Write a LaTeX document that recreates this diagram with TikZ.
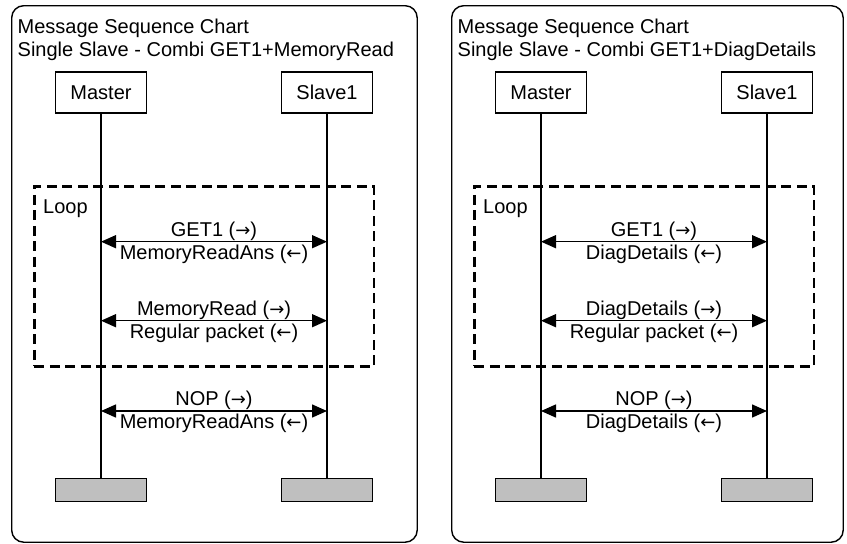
\documentclass[tikz,border=0pt]{standalone}
\usepackage{fontspec}
\setmainfont{Liberation Sans}
\newfontfamily\arrowfont{DejaVu Sans}
\newcommand\rarr{{\arrowfont\fontsize{18}{24}\selectfont →}}
\newcommand\larr{{\arrowfont\fontsize{18}{24}\selectfont ←}}
\usetikzlibrary{arrows.meta}
\tikzset{
  frame/.style={draw, line width=1.4pt, rounded corners=12pt, inner sep=0pt, anchor=north west},
  actor/.style={draw, line width=1.3pt, minimum width=91pt, minimum height=41pt, inner sep=0pt, font=\fontsize{20}{24}\selectfont},
  endbar/.style={draw, fill=black!25, line width=1.5pt, minimum width=91pt, minimum height=23pt, inner sep=0pt},
  lifeline/.style={line width=1.3pt},
  msg/.style={line width=1.5pt, {Triangle[length=15pt,width=13pt]}-{Triangle[length=15pt,width=13pt]}},
  loopbox/.style={draw, line width=2.6pt, dash pattern=on 10pt off 5.5pt},
  lbl/.style={font=\fontsize{20}{24}\selectfont, inner sep=0pt},
}
\begin{document}
\begin{tikzpicture}[x=1pt, y=-1pt]
\useasboundingbox (0,0) rectangle (847,544);
% ---------------- left panel ----------------
\node[frame, minimum width=405.5pt, minimum height=536.5pt] (fL) at (11,5) {};
\node[lbl, anchor=base west] (tL1) at (17.5,33.3) {Message Sequence Chart};
\node[lbl, anchor=base west] (tL2) at (17.5,56.3) {Single Slave - Combi GET1+MemoryRead};
\node[actor] (mL) at (101,92.5) {Master};
\node[actor] (sL) at (327,92.5) {Slave1};
\node[endbar] (emL) at (101,490) {};
\node[endbar] (esL) at (327,490) {};
\draw[lifeline] (mL.south) -- (emL.north);
\draw[lifeline] (sL.south) -- (esL.north);
\node[loopbox, anchor=north west, minimum width=339.7pt, minimum height=180pt, inner sep=0pt] (lpL) at (33,185) {};
\node[lbl, anchor=base west] (lpLt) at (43,213) {Loop};
\coordinate (mL1) at (101,241.7); \coordinate (sL1) at (327,241.7);
\coordinate (mL2) at (101,320.7); \coordinate (sL2) at (327,320.7);
\coordinate (mL3) at (101,411);   \coordinate (sL3) at (327,411);
\draw[msg] (mL1) -- (sL1);
\draw[msg] (mL2) -- (sL2);
\draw[msg] (mL3) -- (sL3);
\node[lbl, anchor=base] (aL1) at (214,236.2) {GET1 (\rarr)};
\node[lbl, anchor=base] (bL1) at (214,259.5) {MemoryReadAns (\larr)};
\node[lbl, anchor=base] (aL2) at (214,315.2) {MemoryRead (\rarr)};
\node[lbl, anchor=base] (bL2) at (214,338.5) {Regular packet (\larr)};
\node[lbl, anchor=base] (aL3) at (214,405.5) {NOP (\rarr)};
\node[lbl, anchor=base] (bL3) at (214,428.8) {MemoryReadAns (\larr)};
% ---------------- right panel ----------------
\node[frame, minimum width=391.5pt, minimum height=536.5pt] (fR) at (451,5) {};
\node[lbl, anchor=base west] (tR1) at (457.5,33.3) {Message Sequence Chart};
\node[lbl, anchor=base west] (tR2) at (457.5,56.3) {Single Slave - Combi GET1+DiagDetails};
\node[actor] (mR) at (541,92.5) {Master};
\node[actor] (sR) at (767,92.5) {Slave1};
\node[endbar] (emR) at (541,490) {};
\node[endbar] (esR) at (767,490) {};
\draw[lifeline] (mR.south) -- (emR.north);
\draw[lifeline] (sR.south) -- (esR.north);
\node[loopbox, anchor=north west, minimum width=339.7pt, minimum height=180pt, inner sep=0pt] (lpR) at (473,185) {};
\node[lbl, anchor=base west] (lpRt) at (483,213) {Loop};
\coordinate (mR1) at (541,241.7); \coordinate (sR1) at (767,241.7);
\coordinate (mR2) at (541,320.7); \coordinate (sR2) at (767,320.7);
\coordinate (mR3) at (541,411);   \coordinate (sR3) at (767,411);
\draw[msg] (mR1) -- (sR1);
\draw[msg] (mR2) -- (sR2);
\draw[msg] (mR3) -- (sR3);
\node[lbl, anchor=base] (aR1) at (654,236.2) {GET1 (\rarr)};
\node[lbl, anchor=base] (bR1) at (654,259.5) {DiagDetails (\larr)};
\node[lbl, anchor=base] (aR2) at (654,315.2) {DiagDetails (\rarr)};
\node[lbl, anchor=base] (bR2) at (654,338.5) {Regular packet (\larr)};
\node[lbl, anchor=base] (aR3) at (654,405.5) {NOP (\rarr)};
\node[lbl, anchor=base] (bR3) at (654,428.8) {DiagDetails (\larr)};
\end{tikzpicture}
\end{document}
